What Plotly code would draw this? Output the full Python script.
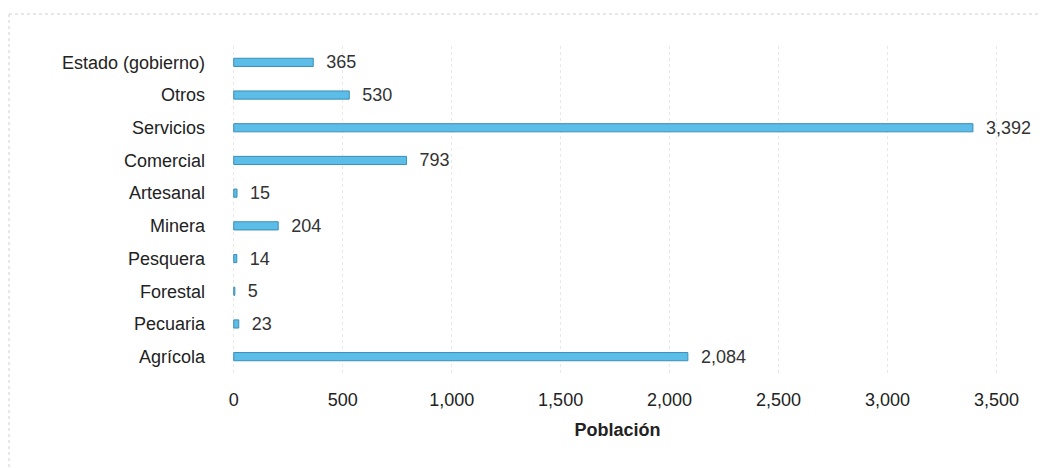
import plotly.graph_objects as go

categories = ["Agrícola", "Pecuaria", "Forestal", "Pesquera", "Minera",
              "Artesanal", "Comercial", "Servicios", "Otros", "Estado (gobierno)"]
values = [2084, 23, 5, 14, 204, 15, 793, 3392, 530, 365]
tick_vals = [0, 500, 1000, 1500, 2000, 2500, 3000, 3500]
tick_text = ["0", "500", "1,000", "1,500", "2,000", "2,500", "3,000", "3,500"]
value_labels = ["\u00a0\u00a0" + f"{v:,}" for v in values]

font_family = "Liberation Sans, Arial, sans-serif"

# The page body adds an 8px offset; margins compensate for it.
W, H = 1047, 468
ML, MR, MT, MB = 224, 52, 38, 103
PW, PH = W - ML - MR, H - MT - MB


def px_to_paper_x(px):
    return (px - ML) / PW


def px_to_paper_y(py):
    return (H - MB - py) / PH


fig = go.Figure(go.Bar(
    y=categories,
    x=values,
    orientation="h",
    marker=dict(color="#5cbde9", line=dict(color="#3a8fb5", width=1)),
    text=value_labels,
    textposition="outside",
    constraintext="none",
    textfont=dict(size=18, color="#333333", family=font_family),
    cliponaxis=False,
    width=0.25,
))

fig.update_layout(
    width=W, height=H,
    margin=dict(l=ML, r=MR, t=MT, b=MB),
    paper_bgcolor="white",
    plot_bgcolor="white",
    font=dict(family=font_family, size=18, color="#222222"),
    showlegend=False,
    xaxis=dict(
        range=[-8, 3530],
        tickvals=tick_vals,
        ticktext=tick_text,
        showgrid=True,
        gridcolor="#e8e8e8",
        griddash="dot",
        gridwidth=1,
        zeroline=False,
        showline=False,
        ticks="",
        automargin=False,
        ticklabelstandoff=14,
        tickfont=dict(size=18, color="#222222"),
        title=dict(text="<b>Población</b>", font=dict(size=18, color="#222222"), standoff=14),
    ),
    yaxis=dict(
        showgrid=False,
        zeroline=False,
        showline=False,
        ticks="",
        automargin=False,
        ticklabelstandoff=26,
        tickfont=dict(size=18, color="#222222"),
    ),
    shapes=[
        dict(type="line", xref="paper", yref="paper",
             x0=px_to_paper_x(1), x1=px_to_paper_x(1047), y0=px_to_paper_y(6), y1=px_to_paper_y(6),
             line=dict(color="#d0d0d0", width=1, dash="dot")),
        dict(type="line", xref="paper", yref="paper",
             x0=px_to_paper_x(1), x1=px_to_paper_x(1), y0=px_to_paper_y(6), y1=px_to_paper_y(468),
             line=dict(color="#d0d0d0", width=1, dash="dot")),
    ],
)

fig.write_html("out.html")
